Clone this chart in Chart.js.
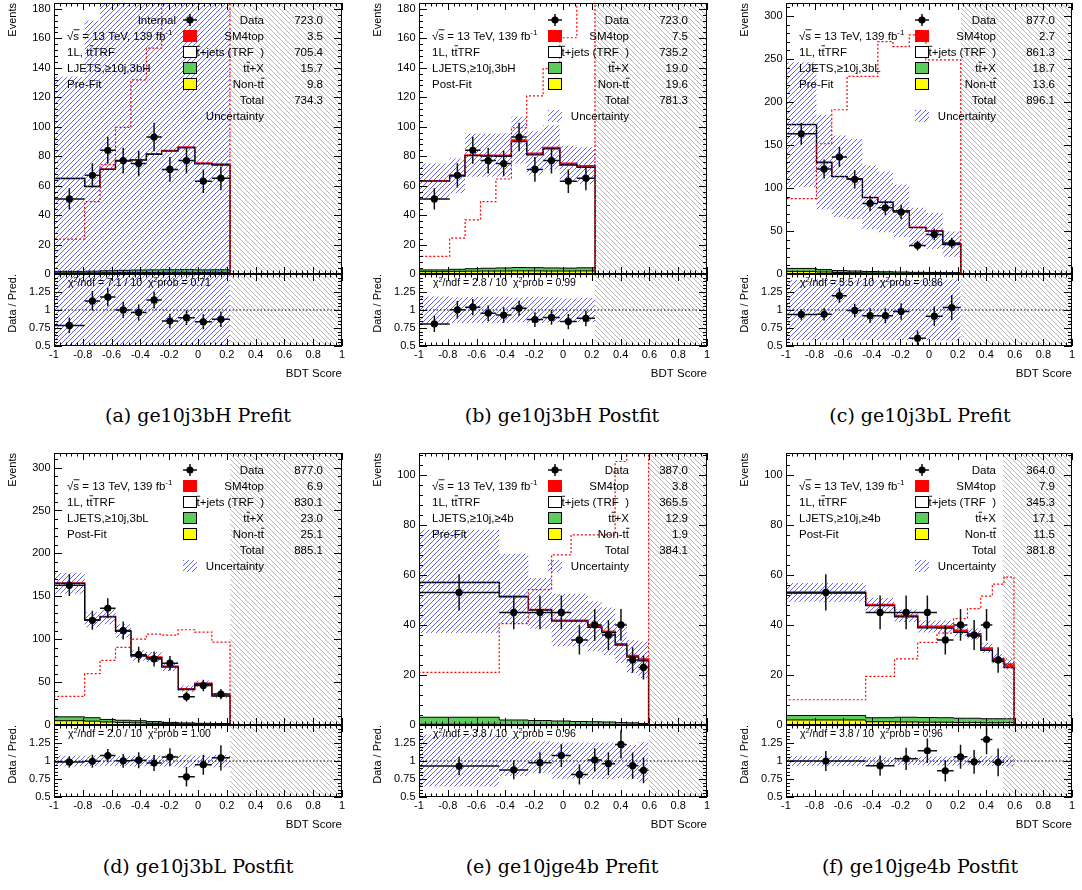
<!DOCTYPE html>
<html>
<head>
<meta charset="utf-8">
<script src="https://cdn.jsdelivr.net/npm/chart.js@4.4.1/dist/chart.umd.min.js"></script>
<style>
  html, body { margin: 0; padding: 0; background: #fff; }
  #page { position: relative; width: 1082px; height: 890px; overflow: hidden; background: #fff; }
  #page canvas { position: absolute; }
  .cap { position: absolute; font-family: "DejaVu Serif", serif; font-size: 19px; color: #000;
         white-space: nowrap; transform: translate(-50%, -50%); }
</style>
</head>
<body>
<div id="page"></div>
<script>
// ---------- binning (BDT score) ----------
const edges3b = [-1, -0.787, -0.68, -0.573, -0.466, -0.358, -0.252, -0.138, -0.022, 0.096, 0.222];
const edges4b = [-1, -0.443, -0.241, -0.079, 0.056, 0.172, 0.269, 0.362, 0.443, 0.524, 0.594];

// ---------- observed events ----------
const data3bH = [51, 67, 84, 77, 75, 93, 71, 77, 63, 65];
const data3bL = [163, 122, 136, 110, 82, 77, 72, 33, 46, 36];
const data4b = [53, 45, 45, 45, 34, 40, 36, 40, 26, 23];
const data4bPost = [53, 45, 45, 45, 34, 40, 36, 40, 26, null];

// ---------- (a) ge10j3bH pre-fit ----------
const aTotal = [64.9, 59.5, 71.2, 76.9, 77.6, 81.6, 83.9, 86.2, 75.3, 74.6];
const aSig = [0.1, 0.15, 0.2, 0.25, 0.3, 0.4, 0.45, 0.5, 0.55, 0.6];
const aTtx = [1.0, 1.1, 1.3, 1.5, 1.7, 1.8, 1.8, 1.9, 1.8, 1.8];
const aNontt = [0.8, 0.8, 0.9, 1.0, 1.0, 1.0, 1.1, 1.1, 1.0, 1.1];
const aBandHi = [134, 172, 205, 215, 220, 225, 230, 235, 210, 205];
const aBandLo = [0, 0, 0, 0, 0, 0, 0, 0, 0, 0];
const aShape = [23.7, 49.1, 74.2, 99.5, 131.8, 153.3, 195, 240, 280, 320];
const aYields = ['723.0', '3.5', '705.4', '15.7', '9.8', '734.3'];

// ---------- (b) ge10j3bH post-fit ----------
const bTotal = [63.2, 66.8, 80.8, 80.6, 80.6, 90.9, 81.9, 85.9, 75.1, 73.5];
const bSig = [0.15, 0.3, 0.45, 0.6, 0.8, 1.0, 1.0, 1.0, 1.1, 1.1];
const bTtx = [1.2, 1.4, 1.7, 1.9, 2.1, 2.3, 2.2, 2.1, 2.0, 2.1];
const bNontt = [1.6, 1.8, 1.9, 2.0, 2.0, 2.1, 2.1, 2.0, 2.0, 2.1];
const bBandHi = [75.1, 78.5, 95.4, 95.4, 95.4, 106.7, 97, 101, 87, 86];
const bBandLo = [50.3, 54.8, 66.1, 66.1, 66.1, 75.1, 67, 71, 63, 61];
const bShape = [12, 24.4, 36.8, 49.2, 64.5, 99.3, 120.9, 139.4, 160.4, 200];
const bYields = ['723.0', '7.5', '735.2', '19.0', '19.6', '781.3'];

// ---------- (c) ge10j3bL pre-fit ----------
const cTotal = [173.8, 129.7, 113.4, 110.7, 89.0, 83.6, 73.6, 54.2, 50.3, 34.8];
const cSig = [0.1, 0.1, 0.15, 0.2, 0.25, 0.3, 0.35, 0.35, 0.4, 0.5];
const cTtx = [3.5, 2.8, 2.3, 2.0, 1.7, 1.6, 1.4, 1.2, 1.2, 1.0];
const cNontt = [3.0, 2.3, 1.8, 1.5, 1.2, 1.0, 0.9, 0.7, 0.6, 0.6];
const cBandHi = [246, 185, 161, 157, 126, 119, 104, 77, 71, 49.5];
const cBandLo = [101, 75, 66, 64, 52, 48.5, 43, 31.5, 29, 20];
const cShape = [87.5, 151.4, 190.9, 229.6, 229.6, 270.2, 264.4, 278, 249, 249];
const cYields = ['877.0', '2.7', '861.3', '18.7', '13.6', '896.1'];

// ---------- (d) ge10j3bL post-fit ----------
const dTotal = [165.3, 122.6, 126.5, 109.8, 81.1, 79.2, 68.3, 42.3, 48.5, 34.5];
const dSig = [0.25, 0.35, 0.45, 0.6, 0.7, 0.8, 0.85, 0.95, 1.0, 0.95];
const dTtx = [4.5, 4.0, 3.0, 2.5, 2.5, 2.0, 1.5, 1.2, 1.0, 0.8];
const dNontt = [5.0, 4.5, 3.5, 3.0, 2.5, 2.0, 1.5, 1.2, 1.0, 0.9];
const dBandHi = [177.5, 131.5, 135.5, 117.5, 87, 85, 73.5, 46, 52, 37.5];
const dBandLo = [153, 113.5, 117.5, 102, 75, 73.5, 63, 38.5, 45, 31.5];
const dShape = [33.4, 59.8, 75.3, 90.4, 100.1, 105.9, 104.8, 111, 108.3, 96.6];
const dYields = ['877.0', '6.9', '830.1', '23.0', '25.1', '885.1'];

// ---------- (e) ge10jge4b pre-fit ----------
const eTotal = [57.0, 51.4, 46.1, 41.8, 41.8, 39.4, 37.4, 32.5, 27.8, 26.4];
const eSig = [0.1, 0.15, 0.2, 0.25, 0.3, 0.35, 0.45, 0.55, 0.65, 0.8];
const eTtx = [2.8, 1.8, 1.6, 1.4, 1.2, 1.1, 1.0, 0.8, 0.7, 0.5];
const eNontt = [0.3, 0.2, 0.2, 0.2, 0.2, 0.2, 0.2, 0.15, 0.15, 0.1];
const eBandHi = [78, 68.4, 58.7, 52.5, 52.5, 49.5, 47, 40.7, 34, 33.4];
const eBandLo = [36.8, 40.7, 38.5, 31.5, 31.5, 29.5, 28, 24.8, 20.8, 18.8];
const eShape = [21, 40.5, 54.1, 68, 76, 76, 76, 105.3, 125, 140];
const eYields = ['387.0', '3.8', '365.5', '12.9', '1.9', '384.1'];

// ---------- (f) ge10jge4b post-fit ----------
const fTotal = [53.0, 48.1, 43.7, 39.4, 39.4, 37.8, 36.4, 30.8, 26.5, 24.4];
const fSig = [0.3, 0.4, 0.5, 0.6, 0.7, 0.8, 0.9, 1.0, 1.2, 1.5];
const fTtx = [1.8, 1.6, 1.9, 1.9, 1.8, 1.7, 1.7, 1.6, 1.6, 1.5];
const fNontt = [2.0, 1.3, 1.2, 1.1, 1.1, 1.0, 1.0, 0.9, 0.9, 1.0];
const fBandHi = [56.7, 50.8, 46.2, 41.8, 41.8, 40.1, 38.6, 32.9, 28.4, 26.3];
const fBandLo = [49.3, 45.2, 41.2, 37.0, 37.0, 35.5, 34.2, 28.8, 24.6, 22.5];
const fShape = [10.1, 19.4, 26.4, 33.0, 36.7, 42.5, 46.5, 51.5, 56.3, 59.1];
const fYields = ['364.0', '7.9', '345.3', '17.1', '11.5', '381.8'];

// ---------- goodness of fit text ----------
const chi2Text = ['7.1 / 10', '2.8 / 10', '5.5 / 10', '2.0 / 10', '3.8 / 10', '3.8 / 10'];
const chi2Prob = ['0.71', '0.99', '0.86', '1.00', '0.96', '0.96'];

// ---------- page grid ----------
const cols = [{L: 54, R: 342, cap: 198}, {L: 419, R: 707, cap: 562}, {L: 786, R: 1072, cap: 920}];
const rows = [{mt: 3, mb: 274, rb: 346, cap: 415}, {mt: 453, mb: 725, rb: 797, cap: 866}];

const panels = [
  {col: 0, row: 0, edges: edges3b, data: data3bH, total: aTotal, sig: aSig, ttx: aTtx, nontt: aNontt,
   hi: aBandHi, lo: aBandLo, shape: aShape, yields: aYields, region: 'LJETS,\u226510j,3bH', fit: 'Pre-Fit',
   chi2: chi2Text[0], prob: chi2Prob[0], blind: 0.222, ymax: 184, ystep: 20, internal: true,
   caption: '(a) ge10j3bH Prefit'},
  {col: 1, row: 0, edges: edges3b, data: data3bH, total: bTotal, sig: bSig, ttx: bTtx, nontt: bNontt,
   hi: bBandHi, lo: bBandLo, shape: bShape, yields: bYields, region: 'LJETS,\u226510j,3bH', fit: 'Post-Fit',
   chi2: chi2Text[1], prob: chi2Prob[1], blind: 0.222, ymax: 184, ystep: 20,
   caption: '(b) ge10j3bH Postfit'},
  {col: 2, row: 0, edges: edges3b, data: data3bL, total: cTotal, sig: cSig, ttx: cTtx, nontt: cNontt,
   hi: cBandHi, lo: cBandLo, shape: cShape, yields: cYields, region: 'LJETS,\u226510j,3bL', fit: 'Pre-Fit',
   chi2: chi2Text[2], prob: chi2Prob[2], blind: 0.222, ymax: 315, ystep: 50,
   caption: '(c) ge10j3bL Prefit'},
  {col: 0, row: 1, edges: edges3b, data: data3bL, total: dTotal, sig: dSig, ttx: dTtx, nontt: dNontt,
   hi: dBandHi, lo: dBandLo, shape: dShape, yields: dYields, region: 'LJETS,\u226510j,3bL', fit: 'Post-Fit',
   chi2: chi2Text[3], prob: chi2Prob[3], blind: 0.222, ymax: 317, ystep: 50,
   caption: '(d) ge10j3bL Postfit'},
  {col: 1, row: 1, edges: edges4b, data: data4b, total: eTotal, sig: eSig, ttx: eTtx, nontt: eNontt,
   hi: eBandHi, lo: eBandLo, shape: eShape, yields: eYields, region: 'LJETS,\u226510j,\u22654b', fit: 'Pre-Fit',
   chi2: chi2Text[4], prob: chi2Prob[4], blind: 0.594, ymax: 108.7, ystep: 20,
   caption: '(e) ge10jge4b Prefit'},
  {col: 2, row: 1, edges: edges4b, data: data4bPost, total: fTotal, sig: fSig, ttx: fTtx, nontt: fNontt,
   hi: fBandHi, lo: fBandLo, shape: fShape, yields: fYields, region: 'LJETS,\u226510j,\u22654b', fit: 'Post-Fit',
   chi2: chi2Text[5], prob: chi2Prob[5], blind: 0.518, ymax: 108.7, ystep: 20,
   caption: '(f) ge10jge4b Postfit'}
];

// ---------- styling helpers ----------
const FAM = '"Liberation Sans", Arial, Helvetica, sans-serif';
Chart.defaults.font.family = FAM;
Chart.defaults.color = '#000';
const RED = '#ff0000', GREEN = '#5ccd5c', YELLOW = '#ffff00';

function hatch(color, s, back) {
  const c = document.createElement('canvas');
  c.width = s; c.height = s;
  const g = c.getContext('2d');
  g.strokeStyle = color; g.lineWidth = 1;
  g.beginPath();
  if (!back) {
    g.moveTo(0, s); g.lineTo(s, 0);
    g.moveTo(-1, 1); g.lineTo(1, -1);
    g.moveTo(s - 1, s + 1); g.lineTo(s + 1, s - 1);
  } else {
    g.moveTo(0, 0); g.lineTo(s, s);
    g.moveTo(-1, s - 1); g.lineTo(1, s + 1);
    g.moveTo(s - 1, -1); g.lineTo(s + 1, 1);
  }
  g.stroke();
  return g.createPattern(c, 'repeat');
}
const BLUE_HATCH = hatch('rgba(55,55,240,0.78)', 5, false);
const GREY_HATCH = hatch('rgba(150,150,150,0.7)', 5, true);

// histogram outline as a stepped line: one point per bin at its low edge, closing at the last edge
function stepPts(edges, vals, drop) {
  const pts = [];
  if (drop) pts.push({x: edges[0], y: 0});
  vals.forEach((v, i) => pts.push({x: edges[i], y: v}));
  pts.push({x: edges[edges.length - 1], y: vals[vals.length - 1]});
  if (drop) pts.push({x: edges[edges.length - 1], y: 0});
  return pts;
}
function centersOf(edges) { return edges.slice(0, -1).map((e, i) => (e + edges[i + 1]) / 2); }

// rich text: plain, overlined and superscript pieces
const T_ = t => ({t}), B_ = t => ({t, bar: true}), S_ = t => ({t, sup: true});
function drawRich(ctx, segs, x, yMid, align, size) {
  const base = yMid + size * 0.36;
  let w = 0;
  const parts = segs.map(s => {
    const fs = s.sup ? size * 0.7 : size;
    ctx.font = fs + 'px ' + FAM;
    const mw = ctx.measureText(s.t).width;
    w += mw;
    return {s, fs, mw};
  });
  let cx = align === 'right' ? x - w : (align === 'center' ? x - w / 2 : x);
  ctx.textAlign = 'left'; ctx.textBaseline = 'alphabetic'; ctx.fillStyle = '#000';
  for (const {s, fs, mw} of parts) {
    ctx.font = fs + 'px ' + FAM;
    ctx.fillText(s.t, cx, s.sup ? base - size * 0.42 : base);
    if (s.bar) {
      ctx.strokeStyle = '#000'; ctx.lineWidth = 0.9;
      ctx.beginPath();
      ctx.moveTo(cx + 0.2, base - size * 0.86);
      ctx.lineTo(cx + mw + 0.4, base - size * 0.86);
      ctx.stroke();
    }
    cx += mw;
  }
}

function drawFrame(ctx, a) {
  ctx.strokeStyle = '#000'; ctx.lineWidth = 1;
  ctx.strokeRect(a.left + 0.5, a.top + 0.5, a.right - a.left - 1, a.bottom - a.top - 1);
}
function drawTicks(ctx, scale, a, major, nsub, lenMaj, lenMin, horiz) {
  const minor = major / nsub;
  const k0 = Math.ceil(scale.min / minor - 1e-6), k1 = Math.floor(scale.max / minor + 1e-6);
  ctx.strokeStyle = '#000'; ctx.lineWidth = 1;
  ctx.beginPath();
  for (let k = k0; k <= k1; k++) {
    const v = k * minor;
    const len = (Math.abs(k % nsub) === 0) ? lenMaj : lenMin;
    if (horiz) {
      const x = Math.round(scale.getPixelForValue(v)) + 0.5;
      ctx.moveTo(x, a.bottom); ctx.lineTo(x, a.bottom - len);
      ctx.moveTo(x, a.top); ctx.lineTo(x, a.top + len);
    } else {
      const y = Math.round(scale.getPixelForValue(v)) + 0.5;
      ctx.moveTo(a.left, y); ctx.lineTo(a.left + len, y);
      ctx.moveTo(a.right, y); ctx.lineTo(a.right - len, y);
    }
  }
  ctx.stroke();
}
// data error bars: bin width horizontally, Poisson error vertically
function drawErrors(chart, edges, vals, errs) {
  const ctx = chart.ctx, a = chart.chartArea, xs = chart.scales.x, ys = chart.scales.y;
  ctx.save();
  ctx.beginPath(); ctx.rect(a.left, a.top, a.right - a.left, a.bottom - a.top); ctx.clip();
  ctx.strokeStyle = '#111'; ctx.lineWidth = 1.5;
  ctx.beginPath();
  vals.forEach((v, i) => {
    if (v === null) return;
    const xl = xs.getPixelForValue(edges[i]), xr = xs.getPixelForValue(edges[i + 1]);
    const xc = xs.getPixelForValue((edges[i] + edges[i + 1]) / 2);
    const yc = ys.getPixelForValue(v);
    ctx.moveTo(xl, yc); ctx.lineTo(xr, yc);
    ctx.moveTo(xc, ys.getPixelForValue(v + errs[i])); ctx.lineTo(xc, ys.getPixelForValue(v - errs[i]));
  });
  ctx.stroke();
  ctx.restore();
}

const tbar = [T_('t'), B_('t')];
function drawMainText(ctx, a, p) {
  const L = a.left, Tp = a.top, fs = 11.5;
  const leftRows = [
    [T_('\u221A'), B_('s'), T_(' = 13 TeV, 139 fb'), S_('-1')],
    [T_('1L, t'), B_('t'), T_('TRF')],
    [T_(p.region)],
    [T_(p.fit)]
  ];
  leftRows.forEach((segs, i) => drawRich(ctx, segs, L + 13, Tp + 32.5 + 16 * i, 'left', fs));
  if (p.internal) drawRich(ctx, [T_('Internal')], L + 122, Tp + 16.5, 'right', fs);

  const lx = L + 136, xl = L + 210, xv = L + 269;
  const labels = [
    [T_('Data')], [T_('SM4top')], [...tbar, T_('+jets (TRF  )')], [...tbar, T_('+X')],
    [T_('Non-t'), B_('t')], [T_('Total')], [T_('Uncertainty')]
  ];
  labels.forEach((segs, i) => {
    const y = Tp + 17 + 16 * i;
    drawRich(ctx, segs, xl, y, 'right', fs);
    if (i < 6) drawRich(ctx, [T_(p.yields[i])], xv, y, 'right', fs);
  });
  // markers
  let y = Tp + 17;
  ctx.strokeStyle = '#111'; ctx.lineWidth = 1.5;
  ctx.beginPath(); ctx.moveTo(lx - 7, y); ctx.lineTo(lx + 7, y); ctx.moveTo(lx, y - 6); ctx.lineTo(lx, y + 6); ctx.stroke();
  ctx.fillStyle = '#000'; ctx.beginPath(); ctx.arc(lx, y, 3.6, 0, Math.PI * 2); ctx.fill();
  const boxes = [[RED, null], ['#fff', '#000'], [GREEN, '#000'], [YELLOW, '#000']];
  boxes.forEach(([fill, stroke], k) => {
    const yy = Tp + 17 + 16 * (k + 1);
    ctx.fillStyle = fill; ctx.fillRect(lx - 7, yy - 6, 14, 12);
    if (stroke) { ctx.strokeStyle = stroke; ctx.lineWidth = 1; ctx.strokeRect(lx - 6.5, yy - 5.5, 13, 11); }
  });
  const yu = Tp + 17 + 16 * 6;
  ctx.fillStyle = BLUE_HATCH; ctx.fillRect(lx - 7, yu - 6, 14, 12);
}

const page = document.getElementById('page');

function makeCanvas(x, y, w, h) {
  const cv = document.createElement('canvas');
  cv.width = w; cv.height = h;
  cv.style.left = x + 'px'; cv.style.top = y + 'px';
  cv.style.width = w + 'px'; cv.style.height = h + 'px';
  page.appendChild(cv);
  return cv;
}

function yTickFmt(step) {
  return v => (Math.abs(v / step - Math.round(v / step)) < 1e-6 ? String(Math.round(v * 100) / 100) : '');
}

function buildMain(p) {
  const c = cols[p.col], r = rows[p.row];
  const cx = c.L - 54, cy = r.mt - 14;
  const cv = makeCanvas(cx, cy, c.R + 10 - cx, r.mb + 14 - cy);
  const ctr = centersOf(p.edges);
  const ttTop = p.total.map((v, i) => v - p.sig[i]);
  const grTop = p.ttx.map((v, i) => v + p.nontt[i]);
  const none = 'rgba(0,0,0,0)';
  const datasets = [
    {label: 'Data', data: p.data.map((n, i) => ({x: ctr[i], y: n})), showLine: false,
     pointRadius: 3.6, pointBackgroundColor: '#000', pointBorderWidth: 0, order: 0},
    {label: 'SM4top shape', data: stepPts(p.edges, p.shape, true), stepped: true, borderColor: RED,
     borderWidth: 1.2, borderDash: [2, 2], fill: false, pointRadius: 0, order: 1},
    {label: 'Uncertainty low', data: stepPts(p.edges, p.lo, false), stepped: true, borderColor: none,
     borderWidth: 0, fill: false, pointRadius: 0, order: 2},
    {label: 'Uncertainty', data: stepPts(p.edges, p.hi, false), stepped: true, borderColor: none,
     borderWidth: 0, backgroundColor: BLUE_HATCH, fill: '-1', pointRadius: 0, order: 2},
    {label: 'Blinded', data: [{x: p.blind, y: p.ymax}, {x: 1, y: p.ymax}], borderColor: none, borderWidth: 0,
     backgroundColor: GREY_HATCH, fill: 'start', pointRadius: 0, order: 3},
    {label: 'Non-tt', data: stepPts(p.edges, p.nontt, true), stepped: true, borderColor: '#000', borderWidth: 1,
     backgroundColor: YELLOW, fill: 'origin', pointRadius: 0, order: 4},
    {label: 'ttX', data: stepPts(p.edges, grTop, true), stepped: true, borderColor: '#000', borderWidth: 1,
     backgroundColor: GREEN, fill: 'origin', pointRadius: 0, order: 5},
    {label: 'tt+jets', data: stepPts(p.edges, ttTop, true), stepped: true, borderColor: '#000', borderWidth: 1.3,
     backgroundColor: '#fff', fill: 'origin', pointRadius: 0, order: 6},
    {label: 'SM4top', data: stepPts(p.edges, p.total, true), stepped: true, borderColor: RED, borderWidth: 1.6,
     backgroundColor: RED, fill: 'origin', pointRadius: 0, order: 7}
  ];
  new Chart(cv, {
    type: 'line',
    data: {datasets},
    options: {
      responsive: false, animation: false, events: [], devicePixelRatio: 1,
      layout: {padding: {left: 0, right: 10, top: 14, bottom: 14}},
      plugins: {legend: {display: false}, tooltip: {enabled: false}},
      elements: {line: {tension: 0}},
      scales: {
        x: {type: 'linear', min: -1, max: 1, display: false},
        y: {type: 'linear', min: 0, max: p.ymax,
            afterFit: s => { s.width = 54; },
            grid: {display: false, drawTicks: false}, border: {display: false},
            ticks: {stepSize: p.ystep, includeBounds: false, autoSkip: false, padding: 3.5,
                    font: {size: 11}, color: '#000', callback: yTickFmt(p.ystep)},
            title: {display: true, text: 'Events', align: 'end', color: '#000',
                    font: {size: 11}, padding: {top: 6.4, bottom: 0}}}
      }
    },
    plugins: [{
      id: 'mainOverlay',
      beforeDatasetDraw(chart, args) {
        if (args.index === 0) drawErrors(chart, p.edges, p.data, p.data.map(n => (n === null ? 0 : Math.sqrt(n))));
      },
      afterDraw(chart) {
        const ctx = chart.ctx, a = chart.chartArea;
        ctx.save();
        drawFrame(ctx, a);
        drawTicks(ctx, chart.scales.x, a, 0.2, 5, 7, 3.5, true);
        drawTicks(ctx, chart.scales.y, a, p.ystep, 5, 8, 4, false);
        drawMainText(ctx, a, p);
        ctx.restore();
      }
    }]
  });
}

function buildRatio(p) {
  const c = cols[p.col], r = rows[p.row];
  const cx = c.L - 54, cy = r.mb - 14;
  const cv = makeCanvas(cx, cy, c.R + 10 - cx, r.rb + 36 - cy);
  const ctr = centersOf(p.edges);
  const rat = p.data.map((n, i) => (n === null ? null : n / p.total[i]));
  const ratErr = p.data.map((n, i) => (n === null ? 0 : Math.sqrt(n) / p.total[i]));
  const none = 'rgba(0,0,0,0)';
  const datasets = [
    {label: 'Data / Pred.', data: rat.map((v, i) => ({x: ctr[i], y: v})), showLine: false,
     pointRadius: 3.6, pointBackgroundColor: '#000', pointBorderWidth: 0, order: 0},
    {label: 'unity', data: [{x: -1, y: 1}, {x: 1, y: 1}], borderColor: '#000', borderWidth: 1,
     borderDash: [1.5, 2], pointRadius: 0, fill: false, order: 1},
    {label: 'Uncertainty low', data: stepPts(p.edges, p.lo.map((v, i) => v / p.total[i]), false), stepped: true,
     borderColor: none, borderWidth: 0, fill: false, pointRadius: 0, order: 2},
    {label: 'Uncertainty', data: stepPts(p.edges, p.hi.map((v, i) => v / p.total[i]), false), stepped: true,
     borderColor: none, borderWidth: 0, backgroundColor: BLUE_HATCH, fill: '-1', pointRadius: 0, order: 2},
    {label: 'Blinded', data: [{x: p.blind, y: 1.5}, {x: 1, y: 1.5}], borderColor: none, borderWidth: 0,
     backgroundColor: GREY_HATCH, fill: 'start', pointRadius: 0, order: 3}
  ];
  new Chart(cv, {
    type: 'line',
    data: {datasets},
    options: {
      responsive: false, animation: false, events: [], devicePixelRatio: 1,
      layout: {padding: {left: 0, right: 10, top: 14, bottom: 0}},
      plugins: {legend: {display: false}, tooltip: {enabled: false}},
      elements: {line: {tension: 0}},
      scales: {
        x: {type: 'linear', min: -1, max: 1,
            afterFit: s => { s.height = 36; },
            grid: {display: false, drawTicks: false}, border: {display: false},
            ticks: {stepSize: 0.2, includeBounds: false, autoSkip: false, maxRotation: 0, padding: 2,
                    font: {size: 11}, color: '#000', callback: v => String(Math.round(v * 10) / 10)},
            title: {display: true, text: 'BDT Score', align: 'end', color: '#000',
                    font: {size: 11.5}, padding: {top: 0, bottom: 1}}},
        y: {type: 'linear', min: 0.5, max: 1.5,
            afterFit: s => { s.width = 54; },
            grid: {display: false, drawTicks: false}, border: {display: false},
            ticks: {stepSize: 0.25, includeBounds: false, autoSkip: false, padding: 3.5,
                    font: {size: 11}, color: '#000',
                    callback: v => (Math.abs(v - 1.5) < 1e-6 ? '' : String(Math.round(v * 100) / 100))},
            title: {display: true, text: 'Data / Pred.', align: 'end', color: '#000',
                    font: {size: 11}, padding: {top: 6.4, bottom: 0}}}
      }
    },
    plugins: [{
      id: 'ratioOverlay',
      beforeDatasetDraw(chart, args) {
        if (args.index === 0) drawErrors(chart, p.edges, rat, ratErr);
      },
      afterDraw(chart) {
        const ctx = chart.ctx, a = chart.chartArea;
        ctx.save();
        drawFrame(ctx, a);
        drawTicks(ctx, chart.scales.x, a, 0.2, 5, 7, 3.5, true);
        drawTicks(ctx, chart.scales.y, a, 0.25, 5, 8, 4, false);
        drawRich(ctx, [T_('\u03C7'), S_('2'), T_('/ndf = ' + p.chi2 + '  \u03C7'), S_('2'), T_('prob = ' + p.prob)],
                 a.left + 14, a.top + 8.5, 'left', 10.5);
        ctx.restore();
      }
    }]
  });
}

panels.forEach(p => {
  buildMain(p);
  buildRatio(p);
  const d = document.createElement('div');
  d.className = 'cap';
  d.textContent = p.caption;
  d.style.left = cols[p.col].cap + 'px';
  d.style.top = rows[p.row].cap + 'px';
  page.appendChild(d);
});
</script>
</body>
</html>
